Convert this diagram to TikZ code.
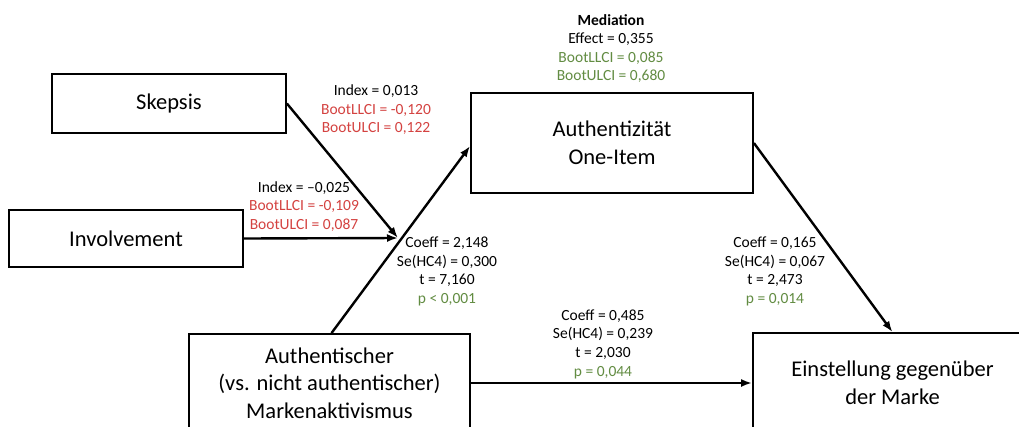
\documentclass[tikz,border=0pt]{standalone}
\usepackage{fontspec}
\setmainfont{Carlito}
\usetikzlibrary{arrows.meta}
\definecolor{sigred}{RGB}{212,66,64}
\definecolor{siggreen}{RGB}{98,140,66}
\tikzset{
  box/.style={draw=black, line width=1.8pt, rectangle, align=center, inner sep=0pt,
    font=\fontsize{22.5}{27.5}\selectfont},
  lbl/.style={align=center, inner sep=0pt, font=\fontsize{15.5}{18.6}\selectfont},
  arr/.style={line width=2.4pt, -{Latex[length=11pt,width=8pt]}},
}
\begin{document}
\begin{tikzpicture}[x=1pt,y=-1pt]
\clip (0,0) rectangle (1019,426);
\fill[white] (0,0) rectangle (1019,426);
% boxes
\node[box, minimum width=234pt, minimum height=59pt] (skep) at (169,103.5) {Skepsis};
\node[box, minimum width=234pt, minimum height=57pt] (inv) at (126,238.5) {Involvement};
\node[box, minimum width=282pt, minimum height=100pt] (auth) at (612,143) {Authentizität\\One-Item};
\node[box, minimum width=281pt, minimum height=98pt] (akt) at (329.5,383) {Authentischer\\(vs. nicht authentischer)\\Markenaktivismus};
\node[box, minimum width=279pt, minimum height=100pt] (ein) at (892.5,383) {Einstellung gegenüber\\der Marke};
\coordinate (j) at (398,238);
% connectors
\draw[arr] (skep.east) -- (j);
\draw[arr] (inv.east) -- (j);
\draw[arr] ([xshift=2pt]akt.north) -- ([yshift=-3pt]auth.west);
\draw[arr] (auth.east) -- (ein.north);
\draw[arr] (akt.east) -- (ein.west);
% labels
\node[lbl] (l1) at (376,110) {Index = 0,013\\\textcolor{sigred}{BootLLCI = -0,120}\\\textcolor{sigred}{BootULCI = 0,122}};
\node[lbl] (l2) at (304,206.5) {Index = –0,025\\\textcolor{sigred}{BootLLCI = -0,109}\\\textcolor{sigred}{BootULCI = 0,087}};
\node[lbl] (l3) at (611,48.5) {\textbf{Mediation}\\Effect = 0,355\\\textcolor{siggreen}{BootLLCI = 0,085}\\\textcolor{siggreen}{BootULCI = 0,680}};
\node[lbl] (l4) at (447,271.5) {Coeff = 2,148\\Se(HC4) = 0,300\\t = 7,160\\\textcolor{siggreen}{p < 0,001}};
\node[lbl] (l5) at (603,344) {Coeff = 0,485\\Se(HC4) = 0,239\\t = 2,030\\\textcolor{siggreen}{p = 0,044}};
\node[lbl] (l6) at (775,271.5) {Coeff = 0,165\\Se(HC4) = 0,067\\t = 2,473\\\textcolor{siggreen}{p = 0,014}};
\end{tikzpicture}
\end{document}
